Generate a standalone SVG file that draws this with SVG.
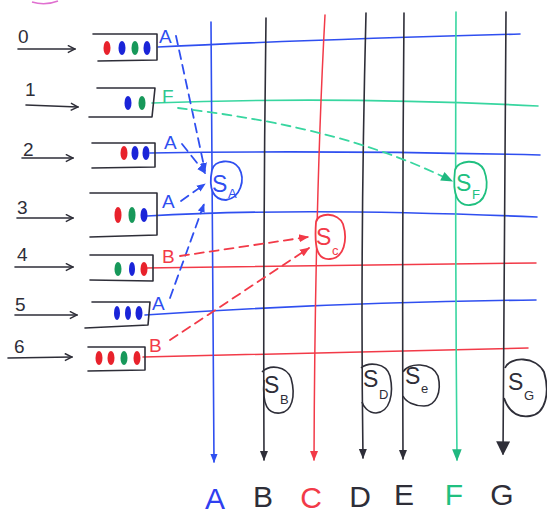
<svg xmlns="http://www.w3.org/2000/svg" width="547" height="517" viewBox="0 0 547 517">
<style>
.bk{stroke:#2e2e38;fill:none;stroke-width:1.6;stroke-linecap:round;stroke-linejoin:round}
.bl{stroke:#2f4ff0;fill:none;stroke-width:1.6;stroke-linecap:round}
.gr{stroke:#38d6a0;fill:none;stroke-width:1.6;stroke-linecap:round}
.rd{stroke:#f23a48;fill:none;stroke-width:1.5;stroke-linecap:round}
.dash{stroke-dasharray:9 6;stroke-width:1.8}
.t{font-family:"Liberation Sans",Arial,sans-serif}
.lbl{font-size:19px}
.big{font-size:30px}
.s{font-size:23px}
.sub{font-size:13px}
.dr{fill:#e8222c}.db{fill:#1a24d8}.dg{fill:#17985a}
</style>
<defs>
<marker id="hk" viewBox="0 0 10 10" refX="9" refY="5" markerWidth="9" markerHeight="9" orient="auto" markerUnits="userSpaceOnUse"><path d="M1,1 L9,5 L1,9" fill="none" stroke="#2e2e38" stroke-width="1.6"/></marker>
<marker id="ab" viewBox="0 0 10 10" refX="9" refY="5" markerWidth="9" markerHeight="9" orient="auto" markerUnits="userSpaceOnUse"><path d="M0,1 L10,5 L0,9 Z" fill="#2f4ff0"/></marker>
<marker id="ar" viewBox="0 0 10 10" refX="9" refY="5" markerWidth="10" markerHeight="10" orient="auto" markerUnits="userSpaceOnUse"><path d="M0,1 L10,5 L0,9 Z" fill="#f23a48"/></marker>
<marker id="ag" viewBox="0 0 10 10" refX="9" refY="5" markerWidth="14" markerHeight="12" orient="auto" markerUnits="userSpaceOnUse"><path d="M0,1 L10,5 L0,9 Z" fill="#20b880"/></marker>
<marker id="ak" viewBox="0 0 10 10" refX="9" refY="5" markerWidth="10" markerHeight="10" orient="auto" markerUnits="userSpaceOnUse"><path d="M0,1 L10,5 L0,9 Z" fill="#2e2e38"/></marker>
<marker id="akb" viewBox="0 0 10 10" refX="9" refY="5" markerWidth="14" markerHeight="14" orient="auto" markerUnits="userSpaceOnUse"><path d="M0,0 L10,5 L0,10 Z" fill="#2e2e38"/></marker>
</defs>
<rect width="547" height="517" fill="#ffffff"/>
<path d="M32,2 Q45,6 58,1" stroke="#e070d0" stroke-width="1.5" fill="none"/>

<!-- rows -->
<g id="rows">
<path class="bl" d="M158,47 Q300,40 520,34"/>
<path class="gr" d="M152,103 Q340,96 538,106"/>
<path class="bl" d="M150,153 Q330,150 540,155"/>
<path class="bl" d="M147,216 Q300,207 537,217"/>
<path class="rd" d="M145,268 Q330,266 536,263"/>
<path class="bl" d="M145,315 Q340,302 536,300"/>
<path class="rd" d="M143,357 Q330,352 528,348"/>
</g>

<!-- columns -->
<g id="columns">
<path class="bl" d="M211,22 Q213,250 214,462" marker-end="url(#ab)"/>
<path class="bk" d="M266,18 Q263,240 264,460" marker-end="url(#ak)"/>
<path class="rd" d="M325,15 Q315,200 314,460" marker-end="url(#ar)"/>
<path class="bk" d="M366,13 Q360,250 363,458" marker-end="url(#ak)"/>
<path class="bk" d="M404,13 Q402,240 403,459" marker-end="url(#ak)"/>
<path class="gr" d="M456,12 Q455,240 457,460" marker-end="url(#ag)"/>
<path class="bk" d="M506,12 Q505,240 503,454" marker-end="url(#akb)"/>
<text class="t big" x="215" y="509" text-anchor="middle" fill="#2f3ff0">A</text>
<text class="t big" x="263" y="507" text-anchor="middle" fill="#2e2e38">B</text>
<text class="t big" x="311" y="508" text-anchor="middle" fill="#f23a48">C</text>
<text class="t big" x="360" y="507" text-anchor="middle" fill="#2e2e38">D</text>
<text class="t big" x="404" y="505" text-anchor="middle" fill="#2e2e38">E</text>
<text class="t big" x="454" y="505" text-anchor="middle" fill="#20c080">F</text>
<text class="t big" x="502" y="505" text-anchor="middle" fill="#2e2e38">G</text>
</g>

<!-- queues -->
<g id="q0">
<text class="t lbl" x="18" y="43" fill="#2e2e38">0</text>
<path class="bk" d="M18,49 L75,49" marker-end="url(#hk)"/>
<path class="bk" d="M93,34 L157,34 L157,60 L98,61"/>
<ellipse class="dr" cx="107" cy="48" rx="3.5" ry="7"/><ellipse class="db" cx="122" cy="48" rx="3.5" ry="7"/><ellipse class="dg" cx="135" cy="48" rx="3.5" ry="7"/><ellipse class="db" cx="147" cy="48" rx="3.5" ry="7"/>
<text class="t lbl" x="159" y="43" fill="#2f4ff0">A</text>
</g>
<g id="q1">
<text class="t lbl" x="25" y="96" fill="#2e2e38">1</text>
<path class="bk" d="M26,105 L78,107" marker-end="url(#hk)"/>
<path class="bk" d="M97,88 L155,88 L152,117 L89,117"/>
<ellipse class="db" cx="128" cy="103" rx="3.5" ry="7"/><ellipse class="dg" cx="142" cy="103" rx="3.5" ry="7"/>
<text class="t lbl" x="162" y="103" fill="#30c890">F</text>
</g>
<g id="q2">
<text class="t lbl" x="23" y="156" fill="#2e2e38">2</text>
<path class="bk" d="M22,158 L73,158" marker-end="url(#hk)"/>
<path class="bk" d="M92,143 L155,143 L155,167 L92,168"/>
<ellipse class="dr" cx="124" cy="153" rx="3.5" ry="7"/><ellipse class="db" cx="135" cy="153" rx="3.5" ry="7"/><ellipse class="db" cx="146" cy="153" rx="3.5" ry="7"/>
<text class="t lbl" x="164" y="149" fill="#2f4ff0">A</text>
</g>
<g id="q3">
<text class="t lbl" x="17" y="214" fill="#2e2e38">3</text>
<path class="bk" d="M17,218 L73,218" marker-end="url(#hk)"/>
<path class="bk" d="M90,193 L157,193 L157,235 L90,237"/>
<ellipse class="dr" cx="118" cy="215" rx="3.5" ry="8"/><ellipse class="dg" cx="132" cy="215" rx="3.5" ry="8"/><ellipse class="db" cx="144" cy="215" rx="3.5" ry="7"/>
<text class="t lbl" x="162" y="208" fill="#2f4ff0">A</text>
</g>
<g id="q4">
<text class="t lbl" x="17" y="261" fill="#2e2e38">4</text>
<path class="bk" d="M15,267 L73,267" marker-end="url(#hk)"/>
<path class="bk" d="M90,255 L153,255 L153,281 L90,280"/>
<ellipse class="dg" cx="118" cy="269" rx="3.5" ry="7"/><ellipse class="db" cx="132" cy="269" rx="3" ry="7"/><ellipse class="dr" cx="144" cy="269" rx="3.5" ry="7"/>
<text class="t lbl" x="162" y="263" fill="#f23a48">B</text>
</g>
<g id="q5">
<text class="t lbl" x="15" y="311" fill="#2e2e38">5</text>
<path class="bk" d="M15,315 L77,315" marker-end="url(#hk)"/>
<path class="bk" d="M92,302 L150,302 L148,325 L85,328"/>
<ellipse class="db" cx="117" cy="313" rx="3" ry="7"/><ellipse class="db" cx="128" cy="313" rx="3" ry="7"/><ellipse class="db" cx="139" cy="313" rx="3.5" ry="7"/>
<text class="t lbl" x="152" y="310" fill="#2f4ff0">A</text>
</g>
<g id="q6">
<text class="t lbl" x="14" y="353" fill="#2e2e38">6</text>
<path class="bk" d="M8,358 L72,357" marker-end="url(#hk)"/>
<path class="bk" d="M88,347 L145,347 L145,370 L88,371"/>
<ellipse class="dr" cx="99" cy="358" rx="3.5" ry="7"/><ellipse class="dr" cx="111" cy="358" rx="3.5" ry="7"/><ellipse class="dg" cx="124" cy="358" rx="3.5" ry="7"/><ellipse class="dr" cx="137" cy="358" rx="3.5" ry="7"/>
<text class="t lbl" x="149" y="352" fill="#f23a48">B</text>
</g>

<!-- S nodes -->
<g id="SA">
<path d="M212,170 C214,160 232,158 239,168 C246,180 240,198 226,200 C214,200 208,190 212,170 Z" stroke="#2f4ff0" stroke-width="1.8" fill="#fff"/>
<text class="t s" x="212" y="192" fill="#2f4ff0">S</text><text class="t sub" x="228" y="198" fill="#2f4ff0">A</text>
</g>
<g id="SC">
<path d="M316,222 C318,212 338,212 343,224 C348,240 344,258 330,259 C318,260 314,250 316,222 Z" stroke="#f23a48" stroke-width="1.8" fill="#fff"/>
<text class="t s" x="316" y="245" fill="#f23a48">S</text><text class="t sub" x="332" y="255" fill="#f23a48">c</text>
</g>
<g id="SF">
<path d="M455,170 C458,160 478,158 484,170 C490,186 486,204 470,205 C458,206 452,196 455,170 Z" stroke="#20c080" stroke-width="1.8" fill="#fff"/>
<text class="t s" x="456" y="191" fill="#20c080">S</text><text class="t sub" x="472" y="199" fill="#20c080">F</text>
</g>
<g id="SB">
<path d="M262,372 C270,364 286,366 291,378 C296,396 292,412 280,413 C268,414 262,406 264,380" stroke="#2e2e38" stroke-width="1.6" fill="none"/>
<text class="t s" x="264" y="393" fill="#2e2e38">S</text><text class="t sub" x="280" y="404" fill="#2e2e38">B</text>
</g>
<g id="SD">
<path d="M361,368 C368,362 386,362 390,376 C394,394 390,412 376,413 C368,413 363,406 362,402" stroke="#2e2e38" stroke-width="1.6" fill="none"/>
<text class="t s" x="363" y="387" fill="#2e2e38">S</text><text class="t sub" x="379" y="399" fill="#2e2e38">D</text>
</g>
<g id="SE">
<path d="M403,372 C408,362 432,362 438,376 C442,392 436,406 424,406 C414,406 406,402 403,396" stroke="#2e2e38" stroke-width="1.6" fill="none"/>
<text class="t s" x="405" y="384" fill="#2e2e38">S</text><text class="t sub" x="421" y="393" fill="#2e2e38">e</text>
</g>
<g id="SG">
<path d="M505,368 C510,356 536,356 544,372 C550,392 546,414 530,416 C516,418 508,410 504,398" stroke="#2e2e38" stroke-width="1.8" fill="none"/>
<text class="t s" x="508" y="390" fill="#2e2e38">S</text><text class="t sub" x="524" y="400" fill="#2e2e38">G</text>
</g>

<!-- connectors -->
<g id="connectors">
<path class="bl dash" d="M176,36 Q190,100 205,171" marker-end="url(#ab)"/>
<path class="bl dash" d="M182,144 L205,173" marker-end="url(#ab)"/>
<path class="bl dash" d="M181,201 L205,184" marker-end="url(#ab)"/>
<path class="bl dash" d="M170,298 L204,204" marker-end="url(#ab)"/>
<path class="gr dash" d="M178,108 C260,118 360,135 452,181" marker-end="url(#ag)" stroke="#20c080"/>
<path class="rd dash" d="M180,256 L308,237" marker-end="url(#ar)"/>
<path class="rd dash" d="M170,340 L309,248" marker-end="url(#ar)"/>
</g>
</svg>
